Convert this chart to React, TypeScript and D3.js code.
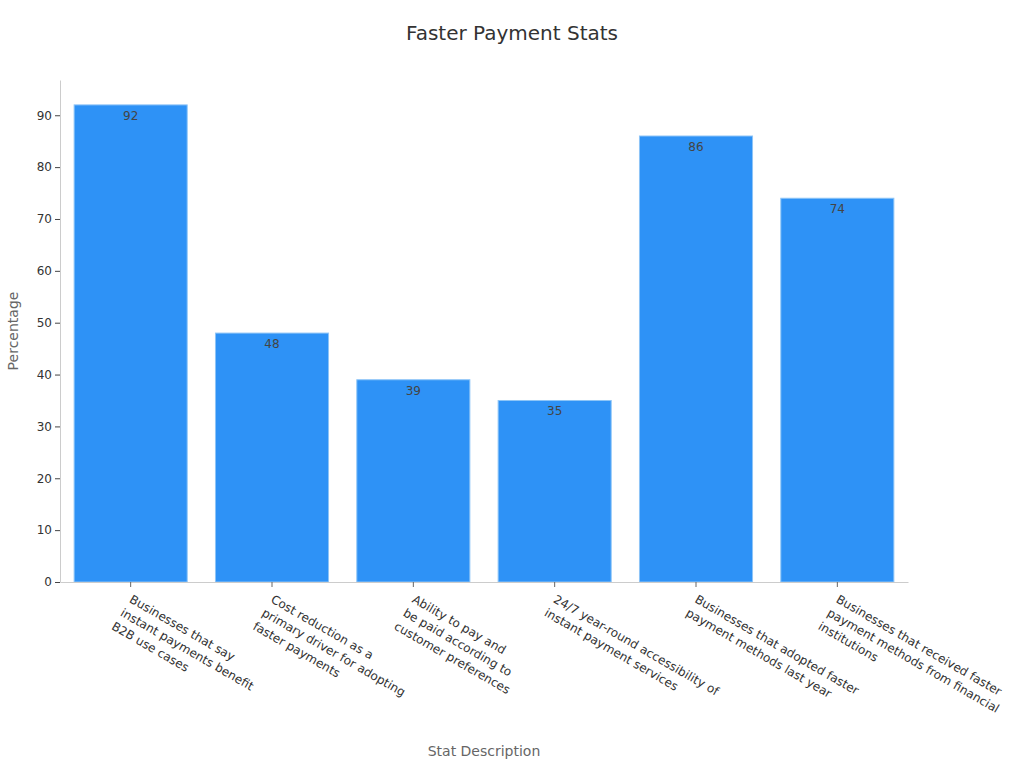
import React, { useEffect, useRef } from 'react';
import * as d3 from 'd3';

const categories: string[][] = [
  ['Businesses that say', 'instant payments benefit', 'B2B use cases'],
  ['Cost reduction as a', 'primary driver for adopting', 'faster payments'],
  ['Ability to pay and', 'be paid according to', 'customer preferences'],
  ['24/7 year-round accessibility of', 'instant payment services'],
  ['Businesses that adopted faster', 'payment methods last year'],
  ['Businesses that received faster', 'payment methods from financial', 'institutions'],
];
const values = [92, 48, 39, 35, 86, 74];
const yTicks = [0, 10, 20, 30, 40, 50, 60, 70, 80, 90];

const width = 1024;
const height = 768;

const App: React.FC = () => {
  const ref = useRef<SVGSVGElement>(null);

  useEffect(() => {
    const marginTop = 80;
    const marginRight = 116;
    const marginBottom = 186;
    const marginLeft = 60;
    const font = "'DejaVu Sans', sans-serif";

    const keys = categories.map((c) => c.join(' '));

    const x = d3
      .scaleBand<string>()
      .domain(keys)
      .range([marginLeft, width - marginRight])
      .paddingInner(0.2)
      .paddingOuter(0.1);

    const y = d3
      .scaleLinear()
      .domain([0, 96.8])
      .range([height - marginBottom, marginTop]);

    const svg = d3.select(ref.current);
    svg.selectAll('*').remove();

    // title
    svg
      .append('text')
      .attr('x', 512)
      .attr('y', 40)
      .attr('text-anchor', 'middle')
      .attr('font-family', font)
      .attr('font-size', 20)
      .attr('fill', '#333')
      .text('Faster Payment Stats');

    // bars
    svg
      .append('g')
      .selectAll('rect')
      .data(values)
      .join('rect')
      .attr('x', (_d, i) => x(keys[i])!)
      .attr('y', (d) => y(d))
      .attr('width', x.bandwidth())
      .attr('height', (d) => y(0) - y(d))
      .attr('fill', '#2e92f6')
      .attr('stroke', '#8ec5f7')
      .attr('stroke-width', 1);

    // value labels
    svg
      .append('g')
      .selectAll('text')
      .data(values)
      .join('text')
      .attr('x', (_d, i) => x(keys[i])! + x.bandwidth() / 2)
      .attr('y', (d) => y(d) + 15)
      .attr('text-anchor', 'middle')
      .attr('font-family', font)
      .attr('font-size', 12)
      .attr('fill', '#444')
      .text((d) => d);

    // y axis
    const yAxis = svg
      .append('g')
      .attr('transform', `translate(${marginLeft},0)`)
      .call(d3.axisLeft(y).tickValues(yTicks).tickSize(5).tickPadding(3).tickSizeOuter(0));
    yAxis.select('.domain').attr('stroke', '#ccc');
    yAxis.selectAll('.tick line').attr('stroke', '#444');
    yAxis
      .selectAll('.tick text')
      .attr('font-family', font)
      .attr('font-size', 12)
      .attr('fill', '#333');

    // x axis
    const xAxis = svg
      .append('g')
      .attr('transform', `translate(0,${height - marginBottom})`)
      .call(d3.axisBottom(x).tickSize(5).tickSizeOuter(0).tickFormat(() => ''));
    xAxis.select('.domain').attr('stroke', '#ccc');
    xAxis.selectAll('.tick line').attr('stroke', '#666');

    // rotated multi-line category labels
    const labels = svg
      .append('g')
      .selectAll('text')
      .data(categories)
      .join('text')
      .attr(
        'transform',
        (_d, i) => `translate(${x(keys[i])! + x.bandwidth() / 2},${height - marginBottom + 16}) rotate(30)`
      )
      .attr('font-family', font)
      .attr('font-size', 12)
      .attr('fill', '#333');
    labels
      .selectAll('tspan')
      .data((d) => d)
      .join('tspan')
      .attr('x', 0)
      .attr('dx', (_d, j) => -j * 1)
      .attr('dy', (_d, j) => (j === 0 ? '0.35em' : '1.35em'))
      .text((d) => d);

    // axis titles
    svg
      .append('text')
      .attr('x', (marginLeft + width - marginRight) / 2)
      .attr('y', 756)
      .attr('text-anchor', 'middle')
      .attr('font-family', font)
      .attr('font-size', 14)
      .attr('fill', '#666')
      .text('Stat Description');

    svg
      .append('text')
      .attr('transform', `translate(18,${(marginTop + height - marginBottom) / 2}) rotate(-90)`)
      .attr('text-anchor', 'middle')
      .attr('font-family', font)
      .attr('font-size', 14)
      .attr('fill', '#666')
      .text('Percentage');
  }, []);

  return (
    <svg
      ref={ref}
      width={width}
      height={height}
      style={{ position: 'absolute', left: 0, top: 0, background: '#fff' }}
    ></svg>
  );
};

export default App;
